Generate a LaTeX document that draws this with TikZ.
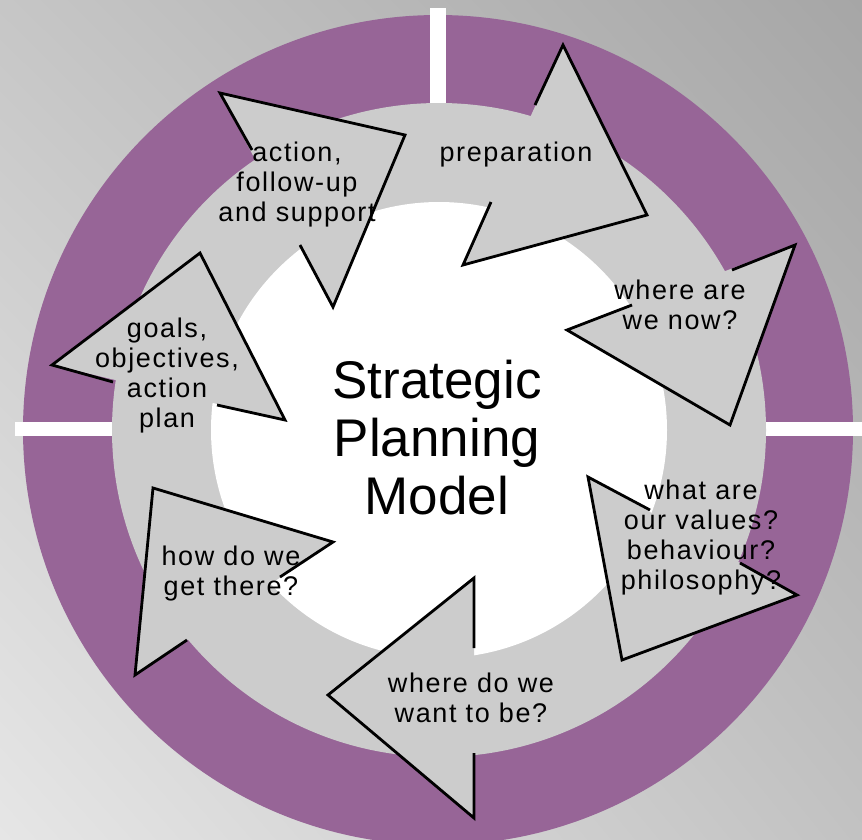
\documentclass[tikz,border=0pt]{standalone}
\usepackage{fontspec}
\usetikzlibrary{shadings}
\setmainfont{Liberation Sans}
\newfontfamily\lblfont[LetterSpace=6]{Liberation Sans}
\definecolor{ringpurple}{HTML}{976597}
\definecolor{ringgray}{HTML}{CCCCCC}
\definecolor{bgUL}{HTML}{C6C6C6}
\definecolor{bgUR}{HTML}{A6A6A6}
\definecolor{bgLL}{HTML}{E6E6E6}
\definecolor{bgLR}{HTML}{C2C2C2}
\begin{document}
\begin{tikzpicture}[x=1pt,y=-1pt,
  headfill/.style={fill=ringgray},
  headline/.style={draw=black,line width=2.8pt,line join=miter},
  bar/.style={fill=white},
  lbl/.style={font=\lblfont\fontsize{27}{30}\selectfont,align=center,inner sep=0pt},
  title/.style={font=\fontsize{53}{58}\selectfont,align=center,inner sep=0pt}]
\useasboundingbox (0,0) rectangle (862,839);
\shade[upper left=bgUL,upper right=bgUR,lower left=bgLL,lower right=bgLR] (0,0) rectangle (862,839);
% rings
\fill[ringpurple] (438,430) circle[radius=415pt];
\fill[bar] (430,8) rectangle (446,200);
\fill[bar] (15,422) rectangle (200,436);
\fill[bar] (680,422) rectangle (862,436);
\fill[ringgray] (439,430) circle[radius=327pt];
\fill[white] (439,430) circle[radius=228pt];
% arrow heads
\fill[headfill] (563,45) -- (647,215) -- (463,265) -- cycle;
\draw[headline] (535,105) -- (563,45) -- (647,215) -- (463,265) -- (491,202);
\fill[headfill] (795,245) -- (730,425) -- (567,330) -- cycle;
\draw[headline] (732,270) -- (795,245) -- (730,425) -- (567,330) -- (632,305);
\fill[headfill] (588,477) -- (622,660) -- (797,595) -- cycle;
\draw[headline] (650,510) -- (588,477) -- (622,660) -- (797,595) -- (740,563);
\fill[headfill] (474,578) -- (328,695) -- (474,818) -- cycle;
\draw[headline] (474,648) -- (474,578) -- (328,695) -- (474,818) -- (474,753);
\fill[headfill] (333,542) -- (153,488) -- (135,675) -- cycle;
\draw[headline] (280,577) -- (333,542) -- (153,488) -- (135,675) -- (187,640);
\fill[headfill] (285,420) -- (200,253) -- (52,365) -- cycle;
\draw[headline] (217,405) -- (285,420) -- (200,253) -- (52,365) -- (113,382);
\fill[headfill] (220,93) -- (405,135) -- (333,307) -- cycle;
\draw[headline] (252,150) -- (220,93) -- (405,135) -- (333,307) -- (300,245);
% texts
\node[title] (title) at (437,438) {Strategic\\Planning\\Model};
\node[lbl] (prep) at (516,155) {preparation};
\node[lbl] (now) at (680,305) {where are\\we now?};
\node[lbl] (values) at (701,538) {what are\\our values?\\behaviour?\\philosophy?};
\node[lbl] (want) at (471,698) {where do we\\want to be?};
\node[lbl] (there) at (231,574) {how do we\\get there?};
\node[lbl] (goals) at (167,376) {goals,\\objectives,\\action\\plan};
\node[lbl] (action) at (297,185) {action,\\follow-up\\and support};
\end{tikzpicture}
\end{document}
